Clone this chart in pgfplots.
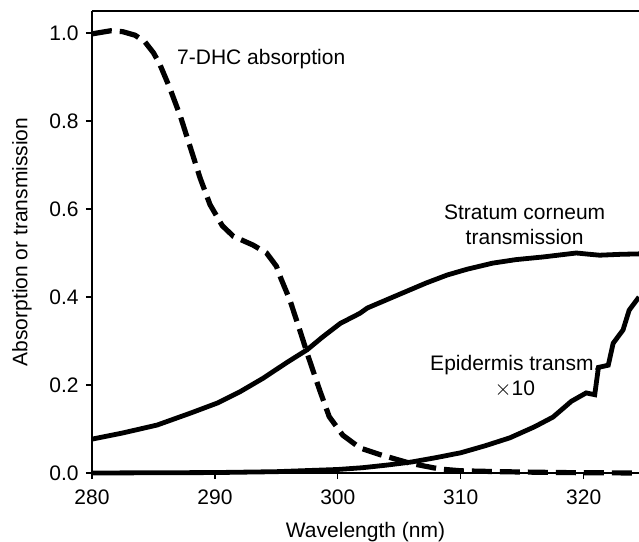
\documentclass[border=0pt]{standalone}
\usepackage{pgfplots}
\pgfplotsset{compat=1.18}
\usepackage{fontspec}
\setmainfont{Liberation Sans}

\begin{document}
\fontsize{10.5}{12.6}\selectfont
\begin{tikzpicture}
\begin{axis}[
    scale only axis,
    width=273.5pt, height=231pt,
    xmin=280, xmax=324.5,
    ymin=0, ymax=1.05,
    axis x line*=box, axis y line*=left,
    xtick={280,290,300,310,320},
    ytick={0,0.2,0.4,0.6,0.8,1.0},
    xtick pos=bottom, ytick pos=left,
    tick align=outside,
    major tick length=3pt,
    tick style={line width=0.6pt, black},
    axis line style={line width=0.6pt},
    yticklabel style={/pgf/number format/.cd, fixed, fixed zerofill, precision=1},
    xticklabel style={yshift=-1.5pt},
    /pgf/number format/assume math mode=true,
    every axis y label/.style={at={(axis description cs:-0.128,0.5)}, rotate=90, anchor=center},
    every axis x label/.style={at={(axis description cs:0.5,-0.128)}, anchor=center},
    xlabel={Wavelength (nm)},
    ylabel={Absorption or transmission},
    clip=false,
]
% 7-DHC absorption (dashed)
\addplot[black, line width=2.6pt, dash pattern=on 10pt off 4pt] coordinates {
(280,0.998) (281.5,1.005) (282.5,1.003) (283.5,0.995) (284.3,0.98) (285.0,0.955)
(285.5,0.93) (286.3,0.877) (287.2,0.81) (288.0,0.74) (288.8,0.67) (289.6,0.61)
(290.6,0.562) (291.5,0.538) (293.1,0.518) (294.2,0.50) (295.0,0.47) (295.4,0.44)
(296.1,0.393) (296.9,0.325) (297.6,0.264) (298.5,0.19) (299.3,0.128) (300.4,0.086)
(301.8,0.057) (303.4,0.042) (305.9,0.022) (308.3,0.009) (310,0.005) (313.2,0.003)
(318,0.001) (324.5,0.0)
};
% Stratum corneum transmission
\addplot[black, line width=2.4pt] coordinates {
(280,0.077) (282.5,0.091) (285.3,0.109) (288,0.136) (290.2,0.159) (292.0,0.184)
(293.9,0.215) (295.9,0.252) (297.5,0.28) (298.8,0.31) (300.2,0.34) (301.8,0.363)
(302.4,0.375) (304.5,0.40) (307.2,0.432) (308.9,0.45) (310.5,0.463) (312.6,0.477)
(314.5,0.485) (316.7,0.491) (319.4,0.50) (320.5,0.497) (321.3,0.495) (323,0.497)
(324.5,0.498)
};
% Epidermis transmission x10
\addplot[black, line width=2.4pt] coordinates {
(280,0.0) (285,0.0005) (290,0.001) (295,0.003) (300,0.008) (302,0.012) (304,0.018)
(306,0.025) (308,0.035) (310,0.046) (312,0.062) (314,0.08) (316,0.105) (317.5,0.127)
(319,0.163) (320.2,0.182) (320.9,0.178) (321.2,0.24) (322,0.245) (322.4,0.295)
(323.2,0.325) (323.7,0.37) (324.5,0.40)
};
\node[anchor=west, inner sep=0pt] at (axis cs:286.9,0.94) {7-DHC absorption};
\node[align=center, inner sep=0pt] at (axis cs:315.2,0.565) {Stratum corneum\\transmission};
\node[align=center, inner sep=0pt] at (axis cs:314.4,0.22) {Epidermis transm.\\$\times$10};
\coordinate (sw) at (rel axis cs:0,0);
\coordinate (ne) at (rel axis cs:1,1);
\end{axis}
\pgfresetboundingbox
\path[use as bounding box] ([xshift=-46pt,yshift=-34.5pt]sw) rectangle ([yshift=5.5pt]ne);
\end{tikzpicture}
\end{document}
